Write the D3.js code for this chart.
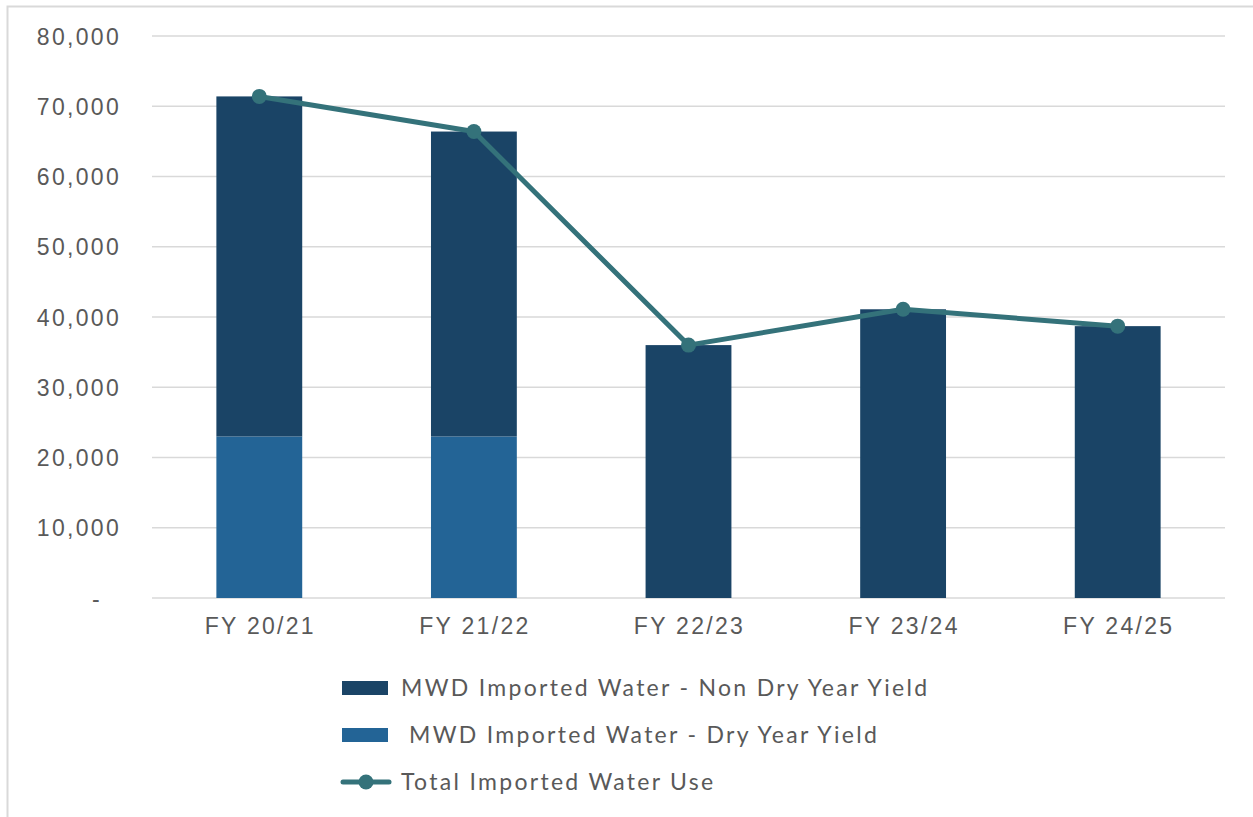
<!DOCTYPE html>
<html><head><meta charset="utf-8">
<script src="https://cdn.jsdelivr.net/npm/d3@7"></script>
<style>
html,body{margin:0;padding:0;background:#fff;}
svg{display:block;font-family:"Lato","DejaVu Sans",sans-serif;}
</style></head>
<body>
<svg id="chart" width="1253" height="817"></svg>
<script>
const categories = ["FY 20/21","FY 21/22","FY 22/23","FY 23/24","FY 24/25"];
const dryYield = [23000, 23000, 0, 0, 0];
const nonDryYield = [48400, 43400, 36000, 41100, 38700];
const totalUse = [71400, 66400, 36000, 41100, 38700];
const yTicks = [0,10000,20000,30000,40000,50000,60000,70000,80000];
const seriesNames = ["MWD Imported Water - Non Dry Year Yield"," MWD Imported Water - Dry Year Yield","Total Imported Water Use"];

const colors = {nonDry:"#1a4466", dry:"#236496", line:"#34727a", grid:"#d9d9d9", text:"#595959"};
const svg = d3.select("#chart");
const W = 1253, H = 817;
const plot = {left:152, right:1225, top:36, bottom:598};
const LS = "2.3px";

// border
svg.append("rect").attr("x",7.5).attr("y",6.5).attr("width",W).attr("height",H)
  .attr("fill","none").attr("stroke","#d9d9d9").attr("stroke-width",2);

const x = d3.scaleBand().domain(categories).range([plot.left, plot.right]).paddingInner(0.6).paddingOuter(0.3);
const y = d3.scaleLinear().domain([0,80000]).range([plot.bottom, plot.top]);

// gridlines
svg.append("g").selectAll("line").data(yTicks).join("line")
  .attr("x1",plot.left).attr("x2",plot.right)
  .attr("y1",d=>y(d)).attr("y2",d=>y(d))
  .attr("stroke",colors.grid).attr("stroke-width",1.5);

// y axis
const yAxis = svg.append("g").attr("transform",`translate(121,0)`)
  .call(d3.axisLeft(y).tickValues(yTicks).tickSize(0).tickPadding(0)
    .tickFormat(d => d===0 ? "-" : d3.format(",")(d)));
yAxis.select(".domain").remove();
yAxis.selectAll("text").attr("fill",colors.text).style("font-size","23px").style("letter-spacing",LS)
  .attr("dy","0.35em")
  .attr("dx", d => d===0 ? -19 : 0);

// stacked bars
const stackData = categories.map((c,i)=>({cat:c, dry:dryYield[i], nonDry:nonDryYield[i]}));
const stack = d3.stack().keys(["dry","nonDry"])(stackData);
const barColor = {dry:colors.dry, nonDry:colors.nonDry};
svg.append("g").selectAll("g").data(stack).join("g")
  .attr("fill",s=>barColor[s.key])
  .selectAll("rect").data(s=>s).join("rect")
  .attr("x",d=>x(d.data.cat)).attr("width",x.bandwidth())
  .attr("y",d=>y(d[1])).attr("height",d=>y(d[0])-y(d[1]));

// x axis labels
const xAxis = svg.append("g").attr("transform",`translate(1,${plot.bottom})`)
  .call(d3.axisBottom(x).tickSize(0).tickPadding(0));
xAxis.select(".domain").remove();
xAxis.selectAll("text").attr("fill",colors.text).style("font-size","23px").style("letter-spacing",LS).attr("dy","1.55em");

// line
const line = d3.line().x((d,i)=>x(categories[i])+x.bandwidth()/2).y(d=>y(d));
svg.append("path").datum(totalUse).attr("d",line).attr("fill","none")
  .attr("stroke",colors.line).attr("stroke-width",5).attr("stroke-linejoin","round");
svg.append("g").selectAll("circle").data(totalUse).join("circle")
  .attr("cx",(d,i)=>x(categories[i])+x.bandwidth()/2).attr("cy",d=>y(d))
  .attr("r",7.5).attr("fill",colors.line);

// legend
const leg = svg.append("g");
const rows = [688,735,782];
leg.append("rect").attr("x",342).attr("y",rows[0]-7).attr("width",46).attr("height",14).attr("fill",colors.nonDry);
leg.append("rect").attr("x",342).attr("y",rows[1]-7).attr("width",46).attr("height",14).attr("fill",colors.dry);
leg.append("line").attr("x1",343).attr("x2",389).attr("y1",rows[2]).attr("y2",rows[2])
  .attr("stroke",colors.line).attr("stroke-width",5).attr("stroke-linecap","round");
leg.append("circle").attr("cx",366).attr("cy",rows[2]).attr("r",7.5).attr("fill",colors.line);
leg.selectAll("text").data(seriesNames).join("text")
  .attr("x",(d,i)=> i===1 ? 409 : 401).attr("y",(d,i)=>rows[i]).attr("dy","0.35em")
  .attr("fill",colors.text).style("font-size","23px").style("letter-spacing",LS).text(d=>d.trim());
</script>
</body></html>
